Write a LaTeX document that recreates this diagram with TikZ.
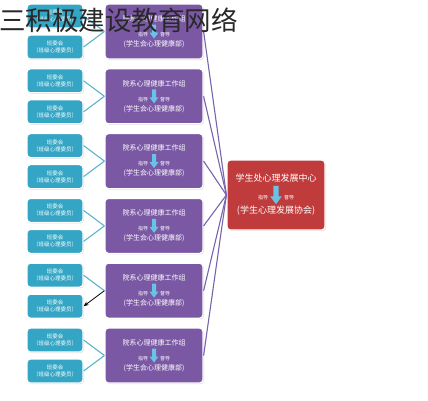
\documentclass[tikz,border=0pt]{standalone}
\usepackage{fontspec}
\setmainfont{Noto Sans CJK SC}
\usetikzlibrary{shadows,arrows.meta}
\definecolor{tealbox}{RGB}{52,165,196}
\definecolor{purplebox}{RGB}{122,88,164}
\definecolor{redbox}{RGB}{192,60,60}
\definecolor{plink}{RGB}{118,100,172}
\definecolor{tlink}{RGB}{90,180,205}
\definecolor{arrowblue}{RGB}{105,195,228}
\definecolor{titlegray}{RGB}{40,40,40}
\tikzset{
  boxbase/.style={draw=white, line width=1.2pt, rounded corners=3.5pt, text=white, align=center, inner sep=1pt,
    drop shadow={shadow xshift=1pt, shadow yshift=-1pt, opacity=0.28}},
  tbox/.style={boxbase, fill=tealbox, minimum width=56pt, minimum height=24pt, font=\fontsize{5.5}{7}\selectfont},
  pbox/.style={boxbase, fill=purplebox, minimum width=98pt, minimum height=55pt, font=\fontsize{7}{9}\selectfont},
  rbox/.style={boxbase, fill=redbox, minimum width=98pt, minimum height=70pt, font=\fontsize{9}{11}\selectfont},
  plinkstyle/.style={draw=plink, line width=1.1pt},
  tlinkstyle/.style={draw=tlink, line width=1.1pt},
  darrow/.pic={\fill[arrowblue] (-2,-7) -- (2,-7) -- (2,1) -- (4.5,1) -- (0,7) -- (-4.5,1) -- (-2,1) -- cycle;}
}
\begin{document}
\begin{tikzpicture}[x=1pt,y=-1pt]
\useasboundingbox (0,0) rectangle (428,400);
% red root
\node[rbox] (r) at (276,195) {学生处心理发展中心\\[7pt]{\fontsize{5}{6}\selectfont 指导\hspace{16pt}督导}\\[3pt](学生心理发展协会)};
\pic[scale=1.3] at (276,195) {darrow};
\foreach \i in {0,...,5}{
  \pgfmathsetmacro\yc{31.5+64.8*\i}
  \pgfmathsetmacro\ya{\yc-15.5}
  \pgfmathsetmacro\yb{\yc+15.5}
  \node[pbox] (p\i) at (154,\yc) {院系心理健康工作组\\[6pt]{\fontsize{5}{6}\selectfont 指导\hspace{12pt}督导}\\[1pt](学生会心理健康部)};
  \pic at (154,\yc) {darrow};
  \node[tbox] (ta\i) at (55,\ya) {班委会\\（班级心理委员）};
  \node[tbox] (tb\i) at (55,\yb) {班委会\\（班级心理委员）};
  \draw[plinkstyle] (p\i.east) -- (r.west);
  \draw[tlinkstyle] (ta\i.east) -- (p\i.west);
  \ifnum\i=4
    \draw[black, line width=0.8pt, -{Stealth[length=5pt,width=4pt]}] (p\i.west) -- (tb\i.east);
  \else
    \draw[tlinkstyle] (tb\i.east) -- (p\i.west);
  \fi
}
\node[anchor=base west, inner sep=0pt, text=titlegray, font=\fontsize{26.5}{27}\selectfont] (title) at (-1,30) {三积极建设教育网络};
\end{tikzpicture}
\end{document}
